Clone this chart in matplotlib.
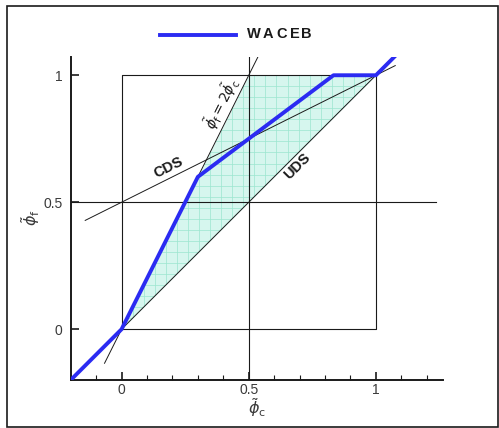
import matplotlib.pyplot as plt
import matplotlib.patches as mpatches
import numpy as np

plt.rcParams['font.family'] = ['Liberation Sans', 'DejaVu Sans']
plt.rcParams['mathtext.fontset'] = 'dejavusans'

# WACEB limiter in normalized variables
waceb_c = [-0.2, 0.0, 0.3, 5.0 / 6.0, 1.0, 1.1]
waceb_f = [-0.2, 0.0, 0.6, 1.0, 1.0, 1.1]

# TVD region bounds (phi_f between phi_c and min(2 phi_c, 1))
tvd_c = [0.0, 0.5, 1.0]
tvd_lo = [0.0, 0.5, 1.0]
tvd_hi = [0.0, 1.0, 1.0]

# reference schemes
cds_c = [-0.143, 1.076]
cds_f = [0.4285, 1.038]
uds_c = [0.0, 1.0]
uds_f = [0.0, 1.0]
twice_c = [-0.067, 0.537]
twice_f = [-0.134, 1.074]

major = [0, 0.5, 1]
major_lbl = ['0', '0.5', '1']
minor = [-0.1, 0.1, 0.2, 0.3, 0.4, 0.6, 0.7, 0.8, 0.9, 1.1, 1.2]

legend_name = 'WACEB'
legend_x = [253.5, 267.5, 281.5, 295.0, 306.0]   # pixel centre of each letter

blue = '#2b2bf2'
ink = '#1a1a1a'
grey = '#3a3a3a'

fig = plt.figure(figsize=(4.99, 4.28), dpi=100)
ax = fig.add_axes([0.1417, 0.1121, 0.7467, 0.7554])
ax.set_xlim(-0.2, 1.265)
ax.set_ylim(-0.2, 1.073)

# shaded TVD region with a fine grid inside
ax.fill_between(tvd_c, tvd_lo, tvd_hi, color='#d6f6ee', lw=0, zorder=1)
clip = mpatches.Polygon([[0, 0], [0.5, 1], [1, 1]], closed=True,
                        transform=ax.transData, visible=False)
ax.add_patch(clip)
for g in np.arange(0.0, 1.0, 0.0435):
    for ln in (ax.plot([g, g], [0, 1], c='#9be6cf', lw=0.5, zorder=2)[0],
               ax.plot([0, 1], [g, g], c='#9be6cf', lw=0.5, zorder=2)[0]):
        ln.set_clip_path(clip)

# unit box and the 0.5 cross lines
ax.plot([0, 1, 1, 0, 0], [0, 0, 1, 1, 0], c=ink, lw=0.8, zorder=3)
ax.plot([-0.2, 1.235], [0.5, 0.5], c=ink, lw=0.8, zorder=3)
ax.plot([0.5, 0.5], [-0.2, 1.073], c=ink, lw=0.8, zorder=3)

ax.plot(cds_c, cds_f, c=ink, lw=0.7, zorder=3)
ax.plot(uds_c, uds_f, c=ink, lw=0.7, zorder=3)
ax.plot(twice_c, twice_f, c=ink, lw=0.7, zorder=3)

ax.plot(waceb_c, waceb_f, c=blue, lw=2.8, solid_capstyle='round', zorder=4)

# scheme labels
ax.text(0.185, 0.636, 'CDS', rotation=26.5, ha='center', va='center',
        fontsize=10.5, fontweight='bold', color=ink)
ax.text(0.69, 0.641, 'UDS', rotation=45, ha='center', va='center',
        fontsize=10.5, fontweight='bold', color=ink)
ax.text(0.393, 0.888, r'$\tilde{\phi}_\mathrm{f} = 2\tilde{\phi}_\mathrm{c}$',
        rotation=63.4, ha='center', va='center', fontsize=10, color=ink)

# axes styling
for s in ['top', 'right']:
    ax.spines[s].set_visible(False)
for s in ['left', 'bottom']:
    ax.spines[s].set_linewidth(1.4)
    ax.spines[s].set_color(ink)
ax.set_xticks(major)
ax.set_xticklabels(major_lbl)
ax.set_xticks(minor, minor=True)
ax.set_yticks(major)
ax.set_yticklabels(major_lbl)
ax.tick_params(which='major', direction='in', length=6, width=1.2,
               labelsize=10, labelcolor=grey, color=ink)
ax.tick_params(axis='x', which='major', pad=2)
ax.tick_params(axis='y', which='major', pad=6)
ax.tick_params(which='minor', direction='in', length=3.5, width=0.8, color=ink)
ax.tick_params(axis='y', which='minor', left=False)

fig.text(257 / 499, 1 - 408 / 428, r'$\tilde{\phi}_\mathrm{c}$', ha='center',
         va='center', fontsize=11.5, color=grey)
fig.text(31 / 499, 1 - 218 / 428, r'$\tilde{\phi}_\mathrm{f}$', ha='center',
         va='center', fontsize=11.5, rotation=90, color=grey)

# legend entry drawn in figure coordinates
fig.add_artist(plt.Line2D([160 / 499, 236 / 499], [1 - 34.5 / 428] * 2,
                          transform=fig.transFigure, color=blue, lw=2.8))
for ch, px in zip(legend_name, legend_x):
    fig.text(px / 499, 1 - 34.5 / 428, ch, ha='center', va='center',
             fontsize=10.5, fontweight='bold', color=ink)

# outer frame
fig.add_artist(mpatches.Rectangle((7 / 499, 1 / 428), 491 / 499, 421 / 428,
                                  transform=fig.transFigure, fill=False,
                                  lw=1.2, ec=ink))

fig.savefig('out.png', dpi=100)
